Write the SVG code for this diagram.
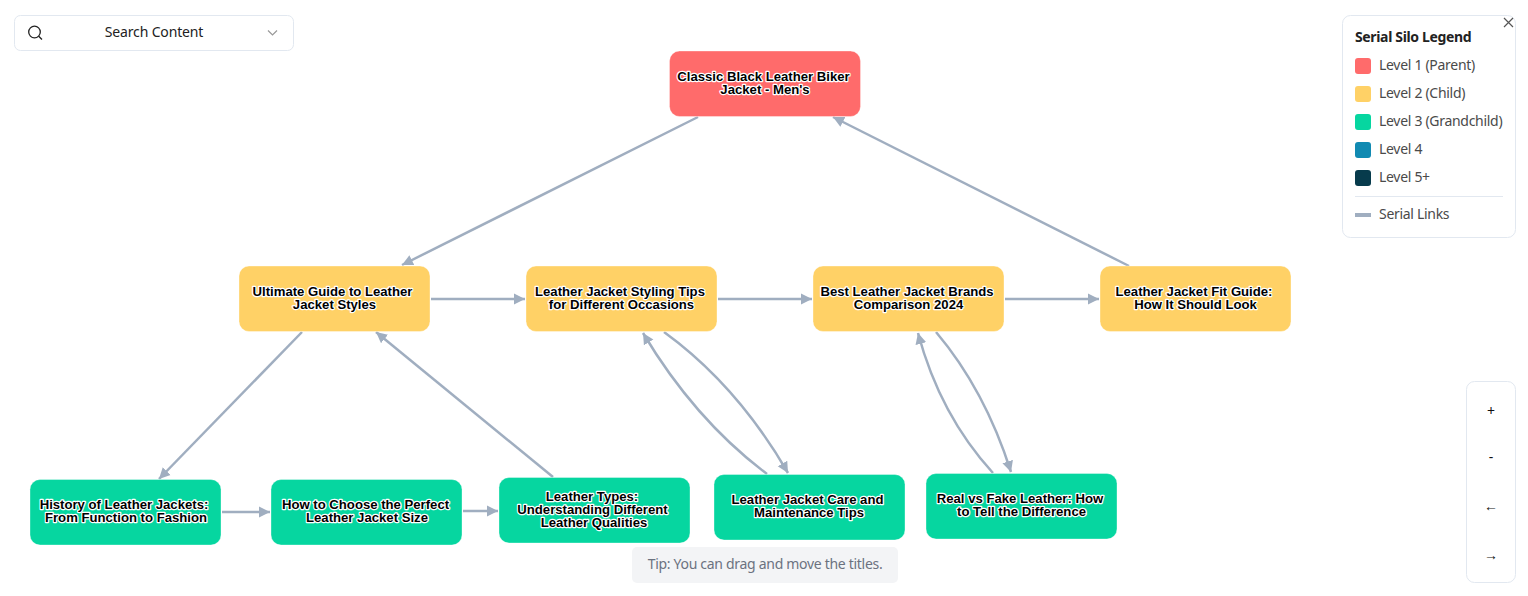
<svg xmlns="http://www.w3.org/2000/svg" width="1528" height="596" viewBox="0 0 1528 596">
<style>
text{font-family:"Noto Sans","Open Sans",sans-serif}
.n{stroke:#fff;stroke-opacity:.35;stroke-width:1}
.t{font-family:"Liberation Sans",Arial,sans-serif;font-size:13.15px;font-weight:700;fill:#000;stroke:#fff;stroke-width:2.4px;paint-order:stroke;stroke-linejoin:round;text-anchor:middle}
.c{fill:none;stroke:#a0aec0;stroke-width:2.5;marker-end:url(#a)}
.l{font-size:14px;fill:#4a4a4a;letter-spacing:-.3px}
.p{fill:#fff;stroke:#e2e8f0;stroke-width:1}
.b{font-size:14px;fill:#111;text-anchor:middle}
</style>
<defs><marker id="a" markerUnits="userSpaceOnUse" markerWidth="12" markerHeight="12" refX="11" refY="6" orient="auto"><path d="M0 0.5L11 6L0 11.5z" fill="#a0aec0"/></marker></defs>
<rect width="1528" height="596" fill="#fff"/>
<g id="connectors">
<path class="c" d="M698 117L402 265"/>
<path class="c" d="M1129 266L833 117"/>
<path class="c" d="M431 299H525"/>
<path class="c" d="M718 299H812"/>
<path class="c" d="M1005 299H1099"/>
<path class="c" d="M302 332L159 479"/>
<path class="c" d="M553 477L376 332"/>
<path class="c" d="M222 512H270"/>
<path class="c" d="M463 511H498"/>
<path class="c" d="M664 332Q737 385 788 473"/>
<path class="c" d="M767 474Q695 420 643 333"/>
<path class="c" d="M936 332Q985 390 1011 472"/>
<path class="c" d="M993 473Q940 415 918 333"/>
</g>
<g id="node-1"><rect class="n" x="669.500" y="51" width="191" height="65.500" rx="10" fill="#ff6b6b"/><text class="t" x="763.500" y="81">Classic Black Leather Biker</text><text class="t" x="765" y="94">Jacket - Men's</text></g>
<g id="node-2"><rect class="n" x="239" y="266" width="191" height="65.500" rx="10" fill="#ffd166"/><text class="t" x="332.500" y="296">Ultimate Guide to Leather</text><text class="t" x="334.500" y="309">Jacket Styles</text></g>
<g id="node-3"><rect class="n" x="526" y="266" width="191" height="65.500" rx="10" fill="#ffd166"/><text class="t" x="620" y="296">Leather Jacket Styling Tips</text><text class="t" x="621.500" y="309">for Different Occasions</text></g>
<g id="node-4"><rect class="n" x="813" y="266" width="191" height="65.500" rx="10" fill="#ffd166"/><text class="t" x="907" y="296">Best Leather Jacket Brands</text><text class="t" x="908.500" y="309">Comparison 2024</text></g>
<g id="node-5"><rect class="n" x="1100" y="266" width="191" height="65.500" rx="10" fill="#ffd166"/><text class="t" x="1194" y="296">Leather Jacket Fit Guide:</text><text class="t" x="1195.500" y="309">How It Should Look</text></g>
<g id="node-6"><rect class="n" x="30" y="479.500" width="191" height="65.500" rx="10" fill="#06d6a0"/><text class="t" x="124" y="509">History of Leather Jackets:</text><text class="t" x="126" y="522">From Function to Fashion</text></g>
<g id="node-7"><rect class="n" x="271" y="479.500" width="191" height="65.500" rx="10" fill="#06d6a0"/><text class="t" x="365.500" y="509">How to Choose the Perfect</text><text class="t" x="367" y="522">Leather Jacket Size</text></g>
<g id="node-8"><rect class="n" x="499" y="477.500" width="191" height="65.500" rx="10" fill="#06d6a0"/><text class="t" x="592" y="501">Leather Types:</text><text class="t" x="592.500" y="514">Understanding Different</text><text class="t" x="594" y="527">Leather Qualities</text></g>
<g id="node-9"><rect class="n" x="714" y="474.500" width="191" height="65.500" rx="10" fill="#06d6a0"/><text class="t" x="807.500" y="504">Leather Jacket Care and</text><text class="t" x="809" y="517">Maintenance Tips</text></g>
<g id="node-10"><rect class="n" x="926" y="473.500" width="191" height="65.500" rx="10" fill="#06d6a0"/><text class="t" x="1020" y="503">Real vs Fake Leather: How</text><text class="t" x="1021.500" y="516">to Tell the Difference</text></g>
<g id="search"><rect class="p" x="14.500" y="15.500" width="279" height="35" rx="6"/><circle cx="34.500" cy="32" r="5.800" fill="none" stroke="#222" stroke-width="1.300"/><path d="M38.700 36.200L42 39.500" stroke="#222" stroke-width="1.300" fill="none"/><text x="154" y="37" font-size="14" fill="#222" text-anchor="middle" letter-spacing="-.15">Search Content</text><path d="M268 30.500L272.500 35L277 30.500" fill="none" stroke="#999" stroke-width="1.200"/></g>
<g id="legend"><rect class="p" x="1342.500" y="15.500" width="173" height="222" rx="8"/><path d="M1504 18L1513 27M1513 18L1504 27" stroke="#555" stroke-width="1.200"/>
<text x="1355" y="42" font-size="14" font-weight="700" fill="#222" letter-spacing="-.35">Serial Silo Legend</text>
<rect x="1355" y="58" width="16" height="16" rx="3" fill="#ff6b6b"/><text class="l" x="1379" y="70">Level 1 (Parent)</text>
<rect x="1355" y="86" width="16" height="16" rx="3" fill="#ffd166"/><text class="l" x="1379" y="98">Level 2 (Child)</text>
<rect x="1355" y="114" width="16" height="16" rx="3" fill="#06d6a0"/><text class="l" x="1379" y="126">Level 3 (Grandchild)</text>
<rect x="1355" y="142" width="16" height="16" rx="3" fill="#118ab2"/><text class="l" x="1379" y="154">Level 4</text>
<rect x="1355" y="170" width="16" height="16" rx="3" fill="#073b4c"/><text class="l" x="1379" y="182">Level 5+</text>
<path d="M1355 196.500H1503" stroke="#e2e8f0"/><rect x="1355" y="213" width="16" height="4" fill="#a0aec0"/><text class="l" x="1379" y="219">Serial Links</text></g>
<g id="controls"><rect class="p" x="1466.500" y="381.500" width="49" height="201" rx="8"/><text class="b" x="1491" y="416">+</text><text class="b" x="1491" y="462">-</text><text class="b" x="1491" y="511">←</text><text class="b" x="1491" y="559.500">→</text></g>
<g id="tip"><rect x="632" y="547" width="266" height="36" rx="5" fill="#f3f4f6"/><text x="765" y="569" font-size="14" fill="#6b7280" text-anchor="middle" letter-spacing="-.3">Tip: You can drag and move the titles.</text></g>
</svg>
